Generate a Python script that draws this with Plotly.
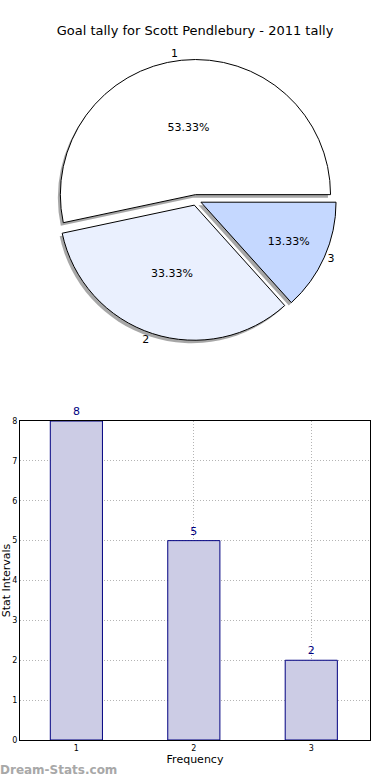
import plotly.graph_objects as go

# ---- data ----
categories = ["1", "2", "3"]
tally_values = [8, 5, 2]
bar_x = [1, 2, 3]
pie_colors = ["#FFFFFF", "#EAF0FE", "#C5D8FF"]
title_text = "Goal tally for Scott Pendlebury - 2011 tally"

W, H = 390, 780
FONT = "DejaVu Sans"

def px_x(v):
    return v / W

def px_y(v):  # from top in px -> paper
    return 1 - v / H

# first slice starts at 3 o'clock and runs counterclockwise
start_rot = 90 - 360 * tally_values[0] / sum(tally_values)

cx, cy, half = 196, 200, 140.5
pull = [0.04, 0.04, 0.04]

fig = go.Figure()

common_pie = dict(labels=categories, values=tally_values, sort=False,
                  direction="counterclockwise", rotation=start_rot, pull=pull)

# shadow pie
sdx, sdy = -2.5, 3
fig.add_trace(go.Pie(
    **common_pie,
    marker=dict(colors=["rgba(120,120,120,0.65)"] * 3, line=dict(width=0)),
    textinfo="none", hoverinfo="skip", showlegend=False,
    domain=dict(x=[px_x(cx - half + sdx), px_x(cx + half + sdx)],
                y=[px_y(cy + half + sdy), px_y(cy - half + sdy)]),
))

# main pie
fig.add_trace(go.Pie(
    **common_pie,
    marker=dict(colors=pie_colors, line=dict(color="#000000", width=1)),
    texttemplate="%{percent:.2%}", textposition="inside",
    insidetextorientation="horizontal",
    textfont=dict(family=FONT, size=11, color="#000000"),
    showlegend=False,
    domain=dict(x=[px_x(cx - half), px_x(cx + half)],
                y=[px_y(cy + half), px_y(cy - half)]),
))

# outside labels pie (transparent)
fig.add_trace(go.Pie(
    **common_pie,
    marker=dict(colors=["rgba(0,0,0,0)"] * 3, line=dict(width=0)),
    textinfo="label", textposition="outside",
    textfont=dict(family=FONT, size=11, color="#000000"),
    hoverinfo="skip", showlegend=False,
    domain=dict(x=[px_x(cx - half), px_x(cx + half)],
                y=[px_y(cy + half), px_y(cy - half)]),
))

# bar chart
fig.add_trace(go.Bar(
    x=bar_x, y=tally_values, width=0.444,
    marker=dict(color="#CCCCE5", line=dict(color="#000080", width=1)),
    text=[str(v) for v in tally_values], textposition="outside",
    textfont=dict(family=FONT, size=11, color="#000080"),
    cliponaxis=False, showlegend=False,
    xaxis="x", yaxis="y",
))

axis_common = dict(
    showline=True, linecolor="#000000", linewidth=1, mirror=True,
    showgrid=True, gridcolor="#B4B4B4", griddash="1px,2px", gridwidth=1,
    zeroline=False, ticks="",
    tickfont=dict(family=FONT, size=8, color="#000000"),
    layer="above traces", automargin=False,
)

fig.update_layout(
    width=W, height=H,
    margin=dict(l=0, r=0, t=0, b=0),
    paper_bgcolor="#FFFFFF", plot_bgcolor="#FFFFFF",
    font=dict(family=FONT, color="#000000"),
    title=dict(text=title_text, x=0.5, xanchor="center",
               y=px_y(30), yanchor="middle",
               font=dict(family=FONT, size=13, color="#000000")),
    xaxis=dict(domain=[px_x(20), px_x(370)], range=[0.52, 3.5],
               tickmode="array", tickvals=bar_x, ticktext=categories,
               title=dict(text="Frequency", standoff=2,
                          font=dict(family=FONT, size=11)),
               anchor="y", **axis_common),
    yaxis=dict(domain=[px_y(740), px_y(421)], range=[0, 8], dtick=1,
               title=dict(text="Stat Intervals", standoff=4,
                          font=dict(family=FONT, size=11)),
               anchor="x", **axis_common),
    annotations=[dict(text="<b>Dream-Stats.com</b>", x=-0.005, y=px_y(770),
                      xref="paper", yref="paper", xanchor="left",
                      yanchor="middle", showarrow=False,
                      font=dict(family=FONT, size=12, color="#A8A8A8"))],
)

fig.write_html("out.html", config={"displayModeBar": False},
               post_script="document.body.style.margin='0';")
